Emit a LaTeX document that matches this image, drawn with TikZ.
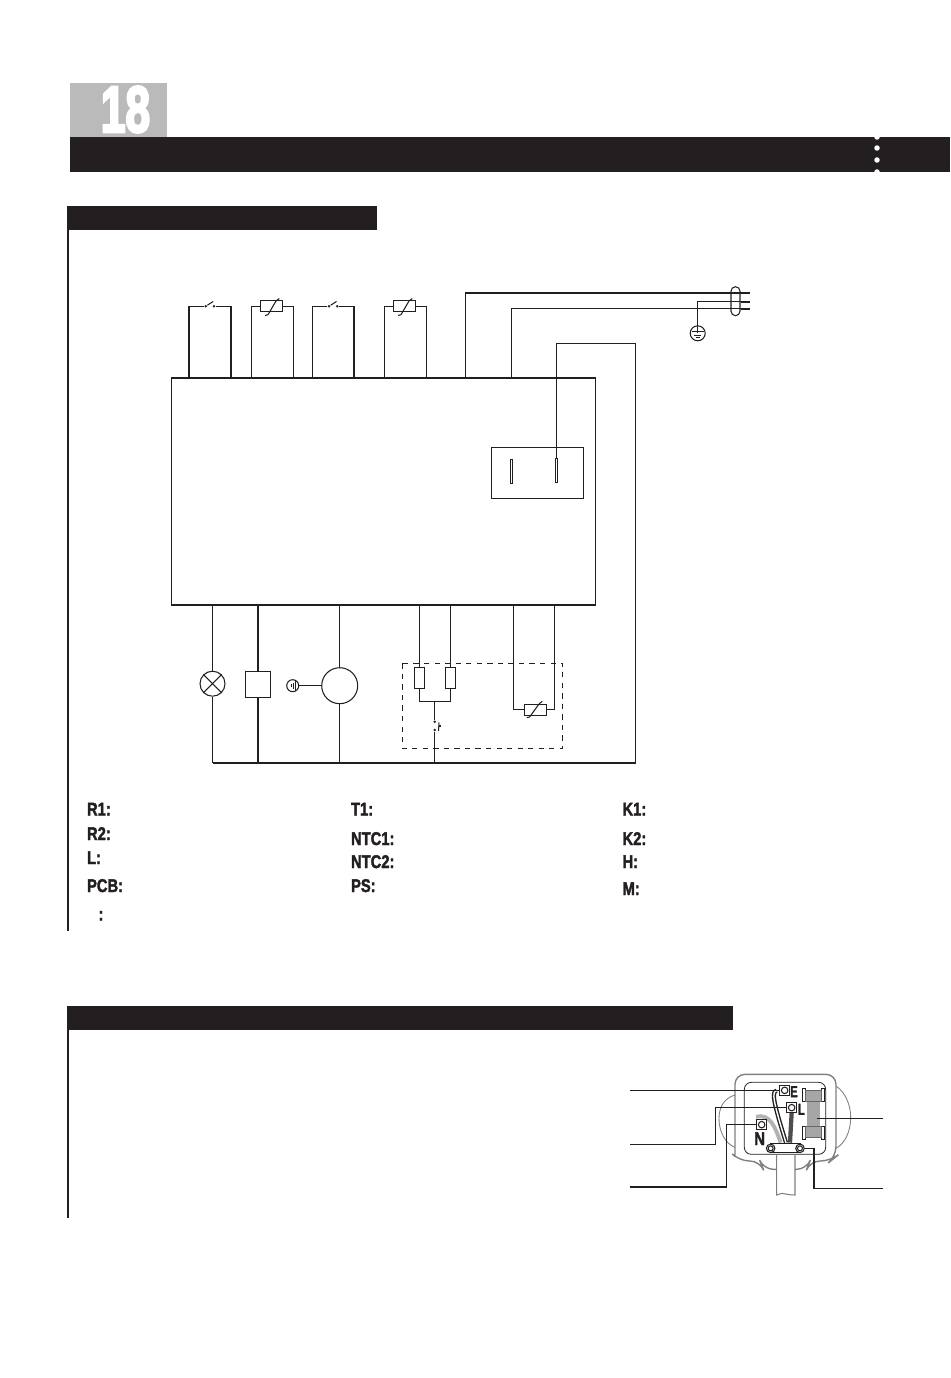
\documentclass[tikz,border=0pt]{standalone}
\usepackage{fontspec}
\setmainfont{Liberation Sans}[BoldFeatures={FakeBold=2.2}]
\newfontfamily\numfont{Liberation Sans}[BoldFeatures={FakeBold=4.5}]
\usetikzlibrary{positioning}
\definecolor{Ink}{HTML}{231F20}
\colorlet{Tab}{black!27}
\colorlet{Body}{black!50}
\newcommand{\narrow}[2][.8]{\scalebox{#1}[1]{#2}}
\begin{document}
\begin{tikzpicture}[
    x=0.02cm, y=-0.02cm,
    line width=0.6pt, Ink,
    bar/.style={fill=Ink, draw=none, rectangle, inner sep=0, outer sep=0},
    rule/.style={line width=1.2pt},
    box/.style={draw, rectangle, inner sep=0},
    ntc/.style={box, minimum width=0.45cm, minimum height=0.22cm},
    heater/.style={box, minimum width=0.21cm, minimum height=0.42cm},
    tabpin/.style={box, minimum width=0.05cm, minimum height=0.48cm, line width=0.5pt},
    contact/.style={circle, fill=Ink, inner sep=0, minimum size=0.055cm},
    round/.style={draw, circle, inner sep=0},
    legend/.style={anchor=base west, inner sep=0, font=\fontsize{10.5}{12}\selectfont\bfseries},
    letter/.style={inner sep=0, font=\fontsize{9}{11}\selectfont\bfseries},
    term/.style={box, fill=white, minimum size=0.21cm},
    screw/.style={round, fill=white, minimum size=0.17cm},
  ]
  \useasboundingbox (0,0) rectangle (950,1378);

  % header
  \node[bar, fill=Tab, anchor=north west, minimum width=1.94cm, minimum height=1.08cm] (tab) at (70,83) {};
  \node[white, inner sep=0, font=\fontsize{37}{40}\selectfont\numfont\bfseries] (num) at (125.5,109.5) {\narrow[.68]{18}};
  \node[bar, anchor=north west, minimum width=17.6cm, minimum height=0.7cm] (head) at (70,137) {};
  \foreach \y in {137,148,160,172}
    \fill[white] (877,\y) circle (0.055cm);

  % section bars
  \node[bar, anchor=north west, minimum width=6.2cm, minimum height=0.48cm] (sec1) at (67,206) {};
  \node[bar, anchor=north west, minimum width=13.32cm, minimum height=0.48cm] (sec2) at (67,1006) {};
  \coordinate (e1) at (68,931);
  \coordinate (e2) at (68,1218);
  \draw[rule] (sec1.south west -| e1) -- (e1);
  \draw[rule] (sec2.south west -| e2) -- (e2);

  % control board
  \node[box, minimum width=8.5cm, minimum height=4.54cm] (pcb) at (383.5,491.5) {};
  \node[box, minimum width=1.84cm, minimum height=1.02cm] (relay) at (537.3,472.8) {};
  \node[tabpin] (pin1) at (511.5,471.3) {};
  \node[tabpin] (pin2) at (556.3,470.8) {};

  % door switches
  \foreach \s/\xl/\xa/\xb/\xr in {k1/189/205.7/214/231,k2/312.3/329/337.3/354}{
    \node[contact] (\s a) at (\xa,306.3) {};
    \node[contact] (\s b) at (\xb,306.3) {};
    \coordinate (\s l) at (\xl,378);
    \coordinate (\s r) at (\xr,378);
    \draw (\s l) |- (\s a);
    \draw (\s r) |- (\s b);
    \draw (\s a) -- ++(7.5,-4.8);
  }

  % upper sensors
  \foreach \s/\xl/\xm/\xr in {r1/251.7/271.5/293.3,r2/384.7/404.5/426.3}{
    \node[ntc] (\s) at (\xm,306.3) {};
    \coordinate (\s l) at (\xl,378);
    \coordinate (\s r) at (\xr,378);
    \draw (\s l) |- (\s.west);
    \draw (\s r) |- (\s.east);
    \draw (\xm-6.5,315.5) -- ++(3,-.8) -- (\xm+4.5,301) -- (\xm+7.8,298.5);
  }

  % mains
  \node[draw, rounded corners=0.09cm, minimum width=0.18cm, minimum height=0.58cm, inner sep=0] (cable) at (735.5,301.2) {};
  \node[round, minimum size=0.3cm] (gnd) at (697.7,333.3) {};
  \coordinate (live) at (465.7,378);
  \coordinate (neut) at (511.7,378);
  \coordinate (liveend) at (750,293);
  \coordinate (gndend) at (750,301.7);
  \coordinate (neutend) at (750,308.7);
  \coordinate (pwr) at (635.3,343.3);
  \coordinate (busr) at (635.3,763);
  \coordinate (busl) at (212.5,763);
  \draw (live) |- (liveend);
  \draw (neut) |- (neutend);
  \draw (gnd.center) |- (gndend);
  \draw (gnd.center) ++(-6,-1.5) -- ++(12,0);
  \draw (gnd.center) ++(-3.5,2) -- ++(7,0);
  \draw (gnd.center) ++(-2,4.5) -- ++(4,0);
  \draw[line width=1.2pt] (741,293) -- (liveend);
  \draw[line width=1.2pt] (741,301.7) -- (gndend);
  \draw[line width=1.2pt] (741,308.7) -- (neutend);
  \draw (pin2.north) |- (pwr) -- (busr) -- (busl);

  % lamp, valve, fan
  \node[round, minimum size=0.5cm] (lamp) at (212.5,683.7) {};
  \draw (lamp.north east) -- (lamp.south west);
  \draw (lamp.north west) -- (lamp.south east);
  \node[box, minimum width=0.5cm, minimum height=0.52cm] (valve) at (258,684.3) {};
  \node[round, minimum size=0.72cm] (fan) at (339.7,685.7) {};
  \node[round, minimum size=0.24cm] (fang) at (292.7,685.7) {};
  \draw (pcb.south -| lamp) -- (lamp);
  \draw (lamp) -- (lamp |- busl);
  \draw (pcb.south -| valve) -- (valve);
  \draw (valve) -- (valve |- busl);
  \draw (pcb.south -| fan) -- (fan);
  \draw (fan) -- (fan |- busl);
  \draw (fan) -- (fang);
  \draw (fang.center) ++(3.2,-5) -- ++(0,10);
  \draw[line width=0.4pt] (fang.center) ++(0.8,-3) -- ++(0,6);
  \draw[line width=0.4pt] (fang.center) ++(-1.4,-1.5) -- ++(0,3);

  % evaporator assembly
  \draw[dashed, line width=0.55pt] (402.3,663.3) rectangle (562.7,748.3);
  \node[heater] (h1) at (419.7,677.8) {};
  \node[heater] (h2) at (450.5,677.8) {};
  \node[contact] (t1a) at (434.7,721.7) {};
  \node[contact] (t1b) at (434.7,730) {};
  \coordinate (hj) at (434.7,701.3);
  \draw (pcb.south -| h1) -- (h1);
  \draw (pcb.south -| h2) -- (h2);
  \draw (h1) |- (hj);
  \draw (h2) |- (hj);
  \draw (hj) -- (t1a);
  \draw (t1b) -- (t1b |- busl);
  \draw (439,722.5) -- (438.5,731);
  \draw (438.5,726) -- (441,726);
  \node[ntc] (r3) at (535.5,709.8) {};
  \coordinate (r3l) at (513.3,605);
  \coordinate (r3r) at (554.7,605);
  \draw (r3l) |- (r3.west);
  \draw (r3r) |- (r3.east);
  \draw (526.7,717.7) -- ++(3,-.8) -- (539,704) -- (542.3,701.3);

  % legend
  \foreach \t/\x/\y [count=\n] in {
    R1:/86.5/815.5,R2:/86.5/840,L:/86.5/864,PCB:/86.5/892,:/98/920.5,
    T1:/350.5/815.5,NTC1:/350.5/845,NTC2:/350.5/868,PS:/350.5/892,
    K1:/622/815.5,K2:/622/845,H:/622/868,M:/622/895}
    \node[legend] (leg\n) at (\x,\y) {\narrow{\t}};

  % plug, in its own grid
  \begin{scope}[shift={(620,1060)}, x=0.00667cm, y=-0.00667cm]
    \draw[Body, line width=0.8pt, rounded corners=0.2cm]
      (345,290) -- (345,43) -- (648,43) -- (648,290) -- (632,303) -- (570,303) -- (560,328) -- (525,328)
      (470,328) -- (430,328) -- (420,303) -- (358,303) -- (345,290);
    \draw[Body, line width=0.5pt] (345,105) .. controls (310,115) and (297,145) .. (297,175) .. controls (297,215) and (315,250) .. (345,262);
    \draw[Body, line width=0.5pt] (648,78) .. controls (680,100) and (692,140) .. (692,172) .. controls (692,215) and (675,250) .. (648,265);
    \draw[line width=0.45pt, rounded corners=0.14cm] (373,67) rectangle (617,283);
    % cable
    \draw[Body] (470,283) -- (470,405) .. controls (485,400) and (490,398) .. (497,402) .. controls (505,406) and (515,403) .. (525,405) -- (525,283);
    % wires
    \draw[Body!60, line width=2.2pt] (408,170) .. controls (450,160) and (465,200) .. (482,248);
    \draw[line width=2.4pt] (470,92) .. controls (455,95) and (458,120) .. (498,248);
    \draw[white, line width=0.8pt] (470,92) .. controls (455,95) and (458,120) .. (498,248);
    \draw[Ink!80, line width=2.4pt] (515,158) -- (510,248);
    % fuse
    \node[box, fill=white, line width=0.45pt, minimum width=0.07cm, minimum height=0.26cm] (c1) at (552,104) {};
    \node[box, fill=white, line width=0.45pt, minimum width=0.05cm, minimum height=0.26cm] (c2) at (608,104) {};
    \node[box, fill=white, line width=0.45pt, minimum width=0.07cm, minimum height=0.26cm] (c3) at (552,219) {};
    \node[box, fill=white, line width=0.45pt, minimum width=0.05cm, minimum height=0.26cm] (c4) at (608,219) {};
    \node[box, fill=black!35, draw=none, minimum width=0.26cm, minimum height=0.93cm] (fuse) at (580,161) {};
    \node[box, fill=black!35, line width=0.3pt, draw=black!60, minimum width=0.33cm, minimum height=0.22cm] (cap1) at (580,108) {};
    \node[box, fill=black!35, line width=0.3pt, draw=black!60, minimum width=0.33cm, minimum height=0.22cm] (cap2) at (580,215) {};
    % clamp
    \node[box, fill=white, minimum width=0.6cm, minimum height=0.18cm] (clamp) at (496,264) {};
    \node[screw] (s1) at (452,265) {};
    \node[screw] (s2) at (540,265) {};
    \draw (s1.center) circle (0.05cm);
    \draw (s2.center) circle (0.05cm);
    % terminals
    \node[term] (te) at (494,91) {};
    \node[term] (tl) at (515,143) {};
    \node[term] (tn) at (425,194) {};
    \foreach \t in {te,tl,tn}
      \node[round, minimum size=0.13cm] at (\t) {};
    \node[letter] (le) at (522,95) {\narrow[.7]{E}};
    \node[letter] (ll) at (544,148) {\narrow[.7]{L}};
    \node[letter, font=\fontsize{10.5}{13}\selectfont\bfseries] (ln) at (419,236) {\narrow[.8]{N}};
    % callouts
    \coordinate (o1) at (30,91);
    \coordinate (o2) at (30,254);
    \coordinate (o3) at (30,381);
    \coordinate (o4) at (790,176);
    \coordinate (o5) at (790,386);
    \coordinate (b2) at (287,254);
    \coordinate (b3) at (319,381);
    \coordinate (b5) at (582,386);
    \draw (o1) -- (te.west |- o1);
    \draw (o2) -- (b2) |- (tl.west);
    \draw (o3) -- (b3) |- (tn.west);
    \draw (o4) -- (590,176);
    \draw (o5) -- (b5) |- (s2.east);
  \end{scope}
\end{tikzpicture}
\end{document}
